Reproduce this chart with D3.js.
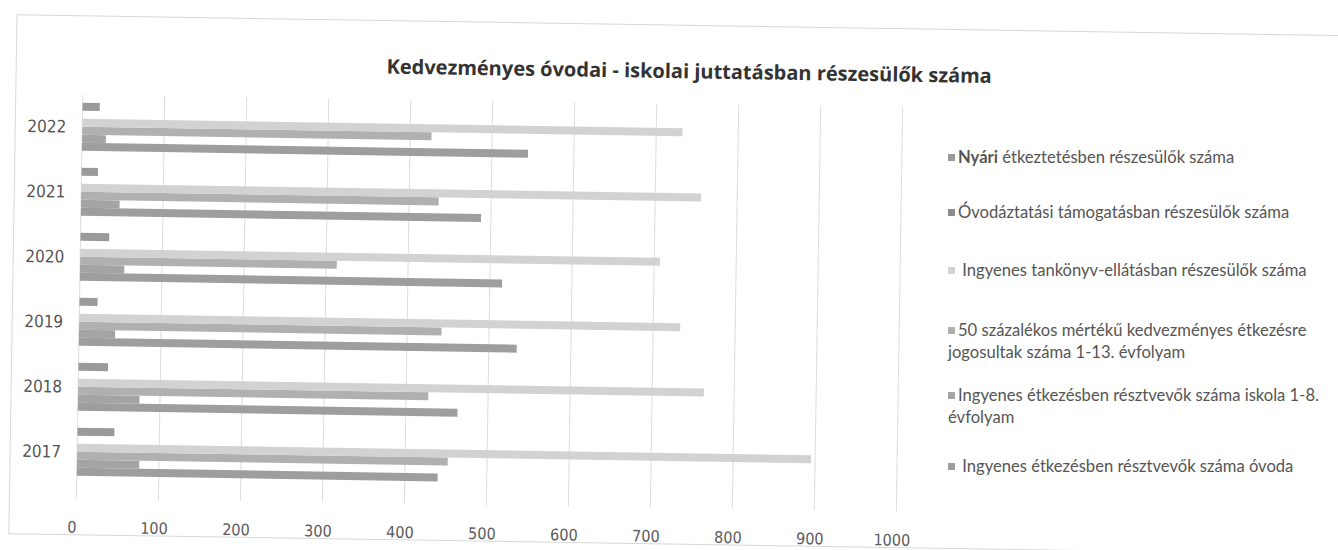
<!DOCTYPE html>
<html>
<head>
<meta charset="utf-8">
<script src="https://cdn.jsdelivr.net/npm/d3@7/dist/d3.min.js"></script>
<style>
	body { margin: 0; background: #fff; }
	text { font-family: "Open Sans", "Noto Sans", sans-serif; }
	.tick-label { font-family: "Liberation Sans Narrow", "DejaVu Sans Condensed", sans-serif; font-size: 16px; fill: #5a5a5a; }
	.year-label { font-family: "Liberation Sans Narrow", "DejaVu Sans Condensed", sans-serif; font-size: 17px; fill: #555; }
	.legend text { font-family: Lato, "Open Sans", sans-serif; font-size: 16.6px; fill: #555; white-space: pre; }
	.title { font-size: 20px; font-weight: bold; fill: #333; }
</style>
</head>
<body>
<svg id="chart" width="1338" height="550"></svg>
<script>
var years = ["2017", "2018", "2019", "2020", "2021", "2022"];

// series in Excel order (first = bottom bar of each group)
var seriesKeys = ["ovoda", "iskola", "fele", "tankonyv", "ovodaztatasi", "nyari"];

var ovoda = [440, 463, 534, 515, 488, 544];
var iskola = [76, 75, 44, 54, 47, 29];
var fele = [452, 427, 442, 313, 436, 426];
var tankonyv = [895, 763, 733, 707, 756, 732];
var ovodaztatasi = [0, 0, 0, 0, 0, 0];
var nyari = [45, 36, 22, 35, 20, 21];

var xTicks = [0, 100, 200, 300, 400, 500, 600, 700, 800, 900, 1000];

var legendLabels = [
	["Nyári| étkeztetésben részesülők száma"],
	["Óvodáztatási támogatásban részesülők száma"],
	[" Ingyenes tankönyv-ellátásban részesülők száma"],
	["50 százalékos mértékű kedvezményes étkezésre", "jogosultak száma 1-13. évfolyam"],
	["Ingyenes étkezésben résztvevők száma iskola 1-8.", "évfolyam"],
	[" Ingyenes étkezésben résztvevők száma óvoda"]
];

var title = "Kedvezményes óvodai - iskolai juttatásban részesülők száma";

buildChart();

function buildChart() {
	var svg = d3.select("#chart"),
		width = +svg.attr("width"),
		height = +svg.attr("height");

	var color = d3.scaleOrdinal()
		.domain(seriesKeys)
		.range(["#9e9e9e", "#a4a4a4", "#b0b0b0", "#d2d2d2", "#8c8c8c", "#9a9a9a"]);

	var values = { ovoda: ovoda, iskola: iskola, fele: fele, tankonyv: tankonyv, ovodaztatasi: ovodaztatasi, nyari: nyari };

	// the scan is tilted a little clockwise
	var g = svg.append("g")
		.attr("transform", "rotate(0.9," + (width / 2) + "," + (height / 2) + ")");

	g.append("rect")
		.attr("x", 13)
		.attr("y", 25)
		.attr("width", 1334)
		.attr("height", 519)
		.attr("fill", "none")
		.attr("stroke", "#d8d8d8");

	g.append("text")
		.attr("class", "title")
		.attr("x", 686)
		.attr("y", 78)
		.attr("text-anchor", "middle")
		.text(title);

	var x = d3.scaleLinear()
		.domain([0, 1000])
		.range([80, 900]);

	var y0 = d3.scaleBand()
		.domain(years.slice().reverse())
		.range([103.5, 493.5])
		.paddingInner(0.26)
		.paddingOuter(0.13);

	var y1 = d3.scaleBand()
		.domain(seriesKeys.slice().reverse())
		.range([0, y0.bandwidth()]);

	g.append("g")
		.attr("class", "grid")
		.selectAll("line")
		.data(xTicks)
		.enter().append("line")
			.attr("x1", function(d) { return x(d); })
			.attr("x2", function(d) { return x(d); })
			.attr("y1", 104)
			.attr("y2", 508)
			.attr("stroke", "#dcdcdc")
			.attr("stroke-width", 1);

	g.append("g")
		.selectAll("text")
		.data(xTicks)
		.enter().append("text")
			.attr("class", "tick-label")
			.attr("x", function(d) { return x(d) - 4; })
			.attr("y", 542)
			.attr("text-anchor", "middle")
			.text(function(d) { return d; });

	g.append("g")
		.selectAll("text")
		.data(years)
		.enter().append("text")
			.attr("class", "year-label")
			.attr("x", 64)
			.attr("y", function(d) { return y0(d) + y0.bandwidth() / 2 + 6; })
			.attr("text-anchor", "end")
			.text(function(d) { return d; });

	var groups = g.append("g")
		.attr("class", "bars")
		.selectAll("g")
		.data(years)
		.enter().append("g")
			.attr("transform", function(d) { return "translate(0," + y0(d) + ")"; });

	groups.selectAll("rect")
		.data(function(d, i) { return seriesKeys.map(function(k) { return { key: k, value: values[k][i] }; }); })
		.enter().append("rect")
			.attr("x", x(0))
			.attr("y", function(d) { return y1(d.key); })
			.attr("width", function(d) { return x(d.value) - x(0); })
			.attr("height", y1.bandwidth())
			.attr("fill", function(d) { return color(d.key); });

	// legend, listed top to bottom in reverse series order (kept level so lines don't collide)
	var legendY = [158, 213, 271, 331, 396, 467];
	var legendKeys = seriesKeys.slice().reverse();

	var legend = svg.append("g")
		.attr("class", "legend")
		.selectAll("g")
		.data(legendKeys)
		.enter().append("g")
			.attr("transform", function(d, i) { return "translate(948," + legendY[i] + ")"; });

	legend.append("rect")
		.attr("x", 0)
		.attr("y", -4)
		.attr("width", 7)
		.attr("height", 7)
		.attr("fill", function(d) { return color(d); });

	legend.each(function(d, i) {
		var item = d3.select(this);
		legendLabels[i].forEach(function(line, j) {
			var parts = line.split("|");
			var t = item.append("text")
				.attr("x", j == 0 ? 10 : 0)
				.attr("y", 5 + j * 22);
			if (parts.length > 1) {
				t.append("tspan").attr("font-weight", "bold").text(parts[0]);
				t.append("tspan").text(parts[1]);
			} else {
				t.text(parts[0]);
			}
		});
	});
}
</script>
</body>
</html>
